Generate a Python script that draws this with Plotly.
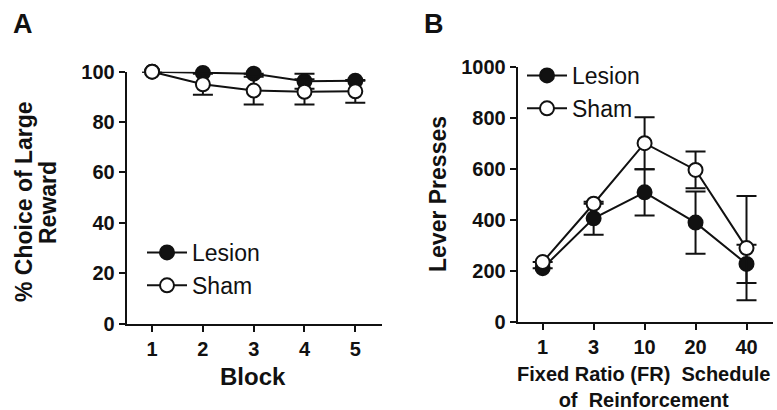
import plotly.graph_objects as go

# ---- Panel A data ----  (None = error bar too short to be drawn)
blocks = [1, 2, 3, 4, 5]
a_lesion = [100, 99.5, 99.2, 96.2, 96.4]
a_lesion_err = [None, None, None, 3.0, None]
a_sham = [100, 95.0, 92.5, 92.0, 92.2]
a_sham_err = [None, 4.2, 5.5, 5.0, 4.5]
a_yticks = [0, 20, 40, 60, 80, 100]

# ---- Panel B data ----
fr_labels = ["1", "3", "10", "20", "40"]
b_lesion = [210, 406, 508, 389, 227]
b_lesion_err = [None, 65, 91, 122, 75]
b_sham = [234, 463, 701, 596, 289]
b_sham_err = [None, None, 102, 72, 205]
b_yticks = [0, 200, 400, 600, 800, 1000]

FONT = "Arial, Liberation Sans, sans-serif"
BLACK = "#111111"
MSIZE = 14

fig = go.Figure()

def add_series(x, y, err, filled, name, xa, ya, legend):
    fig.add_trace(go.Scatter(
        x=x, y=y, name=name, mode="lines+markers",
        xaxis=xa, yaxis=ya, legend=legend, cliponaxis=False,
        line=dict(color=BLACK, width=2),
        marker=dict(size=MSIZE, symbol="circle",
                    color=BLACK if filled else "white",
                    line=dict(color=BLACK, width=2)),
        error_y=dict(type="data", array=err, symmetric=True,
                     color=BLACK, thickness=2, width=10),
    ))

add_series(blocks, a_lesion, a_lesion_err, True, "Lesion", "x", "y", "legend")
add_series(blocks, a_sham, a_sham_err, False, "Sham", "x", "y", "legend")
add_series(fr_labels, b_lesion, b_lesion_err, True, "Lesion", "x2", "y2", "legend2")
add_series(fr_labels, b_sham, b_sham_err, False, "Sham", "x2", "y2", "legend2")

W, H = 777, 410
def px(x):
    return x / W
def py(y):
    return 1 - y / H

axis_common = dict(
    showgrid=False, zeroline=False, showline=True, linecolor=BLACK, linewidth=2,
    ticks="outside", ticklen=6, tickwidth=2, tickcolor=BLACK,
    tickfont=dict(family=FONT, size=20, color=BLACK, weight="bold"),
    automargin=False,
)

legend_common = dict(
    xanchor="left", yanchor="top", bgcolor="rgba(0,0,0,0)", tracegroupgap=0,
    itemwidth=40, font=dict(family=FONT, size=23, color=BLACK),
)

fig.update_layout(
    width=W, height=H, autosize=False,
    margin=dict(l=0, r=0, t=0, b=0, pad=0),
    paper_bgcolor="white", plot_bgcolor="white",
    font=dict(family=FONT, color=BLACK),
    xaxis=dict(domain=[px(126.7), px(381.7)], range=[0.5, 5.52],
               tickvals=blocks, anchor="y", **axis_common),
    yaxis=dict(domain=[py(323.5), py(71.7)], range=[0, 100],
               tickvals=a_yticks, anchor="x", **axis_common),
    xaxis2=dict(domain=[px(517.7), px(773)], range=[-0.49, 4.52],
                type="category", anchor="y2", **axis_common),
    yaxis2=dict(domain=[py(321.7), py(67)], range=[0, 1000],
                tickvals=b_yticks, anchor="x2", **axis_common),
    legend=dict(x=px(142), y=py(231), **legend_common),
    legend2=dict(x=px(522), y=py(54), **legend_common),
)

def label(text, x, y, size, bold=True, angle=0):
    fig.add_annotation(
        text=text, x=px(x), y=py(y), xref="paper", yref="paper",
        xanchor="center", yanchor="middle", showarrow=False, textangle=angle,
        font=dict(family=FONT, size=size, color=BLACK,
                  weight="bold" if bold else "normal"),
    )

label("A", 23, 24, 27)
label("B", 434, 24, 27)
label("Block", 253, 376, 24)
label("% Choice of Large", 24, 202, 23, angle=-90)
label("Reward", 48, 203, 23, angle=-90)
label("Lever Presses", 438, 194, 23, angle=-90)
label("Fixed Ratio (FR)  Schedule<br>of  Reinforcement", 643, 387, 20)

fig.write_html("out.html")
